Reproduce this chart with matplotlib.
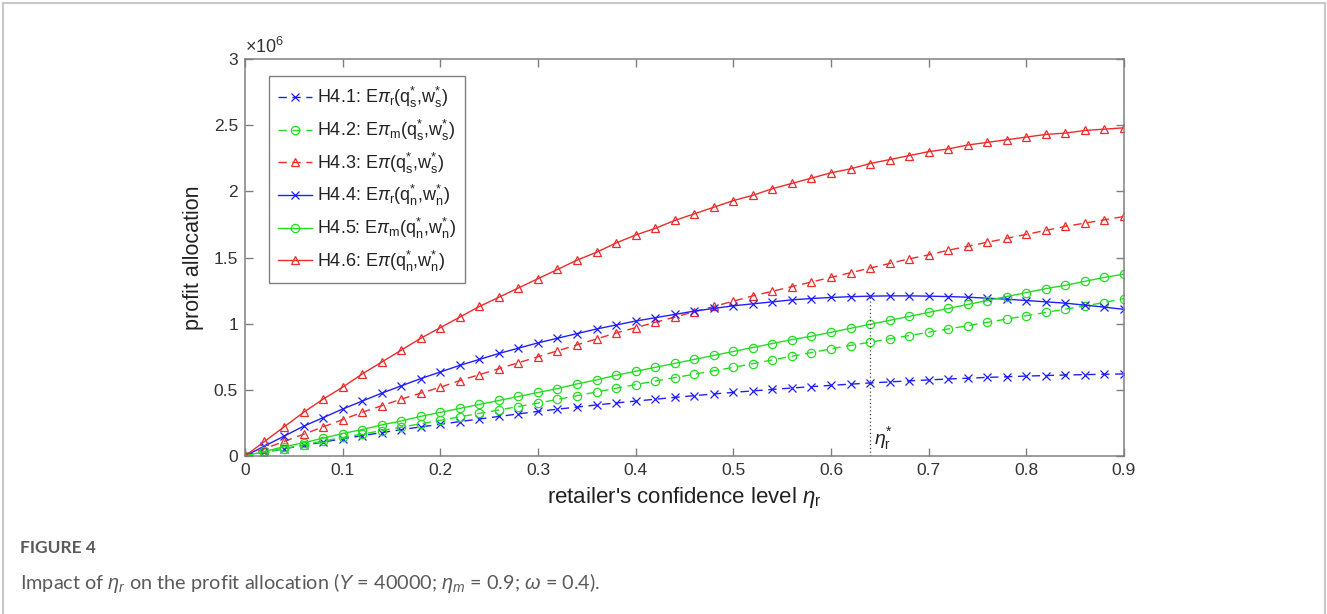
import numpy as np
import matplotlib
matplotlib.use("Agg")
import matplotlib.pyplot as plt
from matplotlib.lines import Line2D

plt.rcParams["font.family"] = ["Liberation Sans", "DejaVu Sans"]
plt.rcParams["mathtext.fontset"] = "custom"
plt.rcParams["mathtext.rm"] = "Liberation Sans"
plt.rcParams["mathtext.it"] = "Liberation Sans:italic"

# retailer's confidence level (markers every 0.02)
eta_r = np.round(np.arange(0, 0.901, 0.02), 2)

# profit values, in units of 1e6
h41 = [0, 0.028, 0.055, 0.08, 0.106, 0.13, 0.154, 0.177, 0.199, 0.22, 0.24,
       0.26, 0.28, 0.299, 0.318, 0.337, 0.354, 0.37, 0.386, 0.401, 0.415,
       0.429, 0.443, 0.456, 0.469, 0.481, 0.492, 0.503, 0.514, 0.524, 0.534,
       0.543, 0.552, 0.56, 0.568, 0.575, 0.582, 0.588, 0.594, 0.599, 0.604,
       0.608, 0.612, 0.615, 0.618, 0.62]
h42 = [0, 0.028, 0.056, 0.084, 0.112, 0.14, 0.166, 0.192, 0.218, 0.244, 0.27,
       0.296, 0.322, 0.348, 0.374, 0.40, 0.428, 0.456, 0.484, 0.512, 0.54,
       0.566, 0.592, 0.618, 0.644, 0.67, 0.698, 0.726, 0.754, 0.782, 0.81,
       0.835, 0.86, 0.885, 0.91, 0.935, 0.96, 0.985, 1.01, 1.035, 1.06,
       1.085, 1.11, 1.135, 1.16, 1.19]
h43 = [0, 0.055, 0.11, 0.165, 0.22, 0.275, 0.33, 0.38, 0.43, 0.475, 0.52,
       0.57, 0.615, 0.66, 0.705, 0.75, 0.795, 0.84, 0.885, 0.93, 0.97,
       1.01, 1.05, 1.09, 1.13, 1.17, 1.21, 1.245, 1.28, 1.315, 1.35,
       1.385, 1.42, 1.455, 1.49, 1.52, 1.555, 1.585, 1.615, 1.645, 1.675,
       1.705, 1.735, 1.76, 1.785, 1.81]
h44 = [0, 0.075, 0.15, 0.225, 0.29, 0.355, 0.415, 0.475, 0.53, 0.585, 0.635,
       0.685, 0.73, 0.775, 0.815, 0.855, 0.89, 0.925, 0.96, 0.99, 1.02,
       1.045, 1.07, 1.095, 1.115, 1.135, 1.15, 1.165, 1.18, 1.19, 1.198,
       1.204, 1.208, 1.21, 1.21, 1.208, 1.205, 1.20, 1.193, 1.185, 1.175,
       1.165, 1.155, 1.14, 1.125, 1.108]
h45 = [0, 0.035, 0.07, 0.10, 0.135, 0.17, 0.20, 0.235, 0.265, 0.30, 0.33,
       0.36, 0.39, 0.42, 0.45, 0.48, 0.51, 0.545, 0.575, 0.61, 0.64,
       0.67, 0.70, 0.73, 0.76, 0.79, 0.82, 0.85, 0.88, 0.905, 0.935,
       0.965, 0.995, 1.025, 1.055, 1.085, 1.115, 1.145, 1.175, 1.205, 1.235,
       1.265, 1.29, 1.32, 1.35, 1.375]
h46 = [0, 0.11, 0.22, 0.33, 0.43, 0.52, 0.62, 0.71, 0.80, 0.89, 0.97,
       1.05, 1.13, 1.20, 1.27, 1.34, 1.41, 1.48, 1.54, 1.61, 1.67,
       1.72, 1.78, 1.83, 1.88, 1.93, 1.97, 2.02, 2.06, 2.10, 2.14,
       2.17, 2.21, 2.24, 2.27, 2.30, 2.32, 2.35, 2.37, 2.39, 2.41,
       2.43, 2.44, 2.46, 2.47, 2.48]

eta_star = 0.64

labels = [
    r"H4.1: E$\pi_{\mathrm{r}}$(q$_{\mathrm{s}}^{*}$,w$_{\mathrm{s}}^{*}$)",
    r"H4.2: E$\pi_{\mathrm{m}}$(q$_{\mathrm{s}}^{*}$,w$_{\mathrm{s}}^{*}$)",
    r"H4.3: E$\pi$(q$_{\mathrm{s}}^{*}$,w$_{\mathrm{s}}^{*}$)",
    r"H4.4: E$\pi_{\mathrm{r}}$(q$_{\mathrm{n}}^{*}$,w$_{\mathrm{n}}^{*}$)",
    r"H4.5: E$\pi_{\mathrm{m}}$(q$_{\mathrm{n}}^{*}$,w$_{\mathrm{n}}^{*}$)",
    r"H4.6: E$\pi$(q$_{\mathrm{n}}^{*}$,w$_{\mathrm{n}}^{*}$)",
]

blue, green, red = "#1f1fff", "#22dd22", "#ee2b2b"
styles = [
    (h41, blue, "x", (0, (6, 4))),
    (h42, green, "o", (0, (6, 4))),
    (h43, red, "^", (0, (6, 4))),
    (h44, blue, "x", "-"),
    (h45, green, "o", "-"),
    (h46, red, "^", "-"),
]

fig = plt.figure(figsize=(13.27, 6.14), dpi=100)
ax = fig.add_axes([0.1846, 0.2573, 0.6624, 0.6466])

for (vals, col, mk, ls), lab in zip(styles, labels):
    ax.plot(eta_r, vals, color=col, linestyle=ls, linewidth=1.0,
            marker=mk, markersize=6, markerfacecolor="none",
            markeredgewidth=0.9, label=lab)

# marker line at eta_r*
ax.plot([eta_star, eta_star], [0, h44[list(eta_r).index(eta_star)]],
        color="#444444", linestyle=(0, (1, 2)), linewidth=0.9)
ax.text(eta_star + 0.004, 0.03, r"$\eta_{\mathrm{r}}^{*}$", fontsize=14,
        color="#222222", ha="left", va="bottom")

ax.set_xlim(0, 0.9)
ax.set_ylim(0, 3)
ax.set_xticks(np.arange(0, 0.91, 0.1))
ax.set_xticklabels(["0", "0.1", "0.2", "0.3", "0.4", "0.5", "0.6", "0.7", "0.8", "0.9"])
ax.set_yticks([0, 0.5, 1, 1.5, 2, 2.5, 3])
ax.set_yticklabels(["0", "0.5", "1", "1.5", "2", "2.5", "3"])
ax.tick_params(direction="in", length=6, width=1, color="#808080",
               labelsize=12.5, labelcolor="#333333", top=True, right=True, pad=5)
for sp in ax.spines.values():
    sp.set_color("#808080")
    sp.set_linewidth(1.1)

ax.text(0.0, 1.006, r"$\times 10^{6}$", transform=ax.transAxes, fontsize=13,
        color="#333333", ha="left", va="bottom")

ax.set_xlabel(r"retailer's confidence level $\eta_{\mathrm{r}}$", fontsize=16,
              color="#222222", labelpad=5)
ax.set_ylabel("profit allocation", fontsize=15.5, color="#222222", labelpad=7)

leg = ax.legend(loc="upper left", bbox_to_anchor=(0.027, 0.957), borderaxespad=0,
                fontsize=13, frameon=True, fancybox=False, framealpha=1,
                edgecolor="#808080", handlelength=1.9, handletextpad=0.3,
                labelspacing=0.42, borderpad=0.5)
leg.get_frame().set_linewidth(1.0)
for t in leg.get_texts():
    t.set_color("#222222")

# caption
fig.text(20 / 1327, 1 - 548 / 614, "FIGURE 4", fontsize=12.5, fontweight="bold",
         color="#5a5a5a", family=["Lato", "DejaVu Sans"], ha="left", va="center")
fig.text(20 / 1327, 1 - 583 / 614,
         r"Impact of $\eta_r$ on the profit allocation ($Y$ = 40000; $\eta_m$ = 0.9; $\omega$ = 0.4).",
         fontsize=14.3, color="#5a5a5a", family=["Lato", "DejaVu Sans"],
         ha="left", va="center")

# light page frame (left, top, right)
frame_kw = dict(color="#c8c8c8", linewidth=1.5, transform=fig.transFigure)
fig.add_artist(Line2D([3 / 1327, 3 / 1327], [0, 1 - 3 / 614], **frame_kw))
fig.add_artist(Line2D([3 / 1327, 1 - 2 / 1327], [1 - 3 / 614, 1 - 3 / 614], **frame_kw))
fig.add_artist(Line2D([1 - 2 / 1327, 1 - 2 / 1327], [0, 1 - 3 / 614], **frame_kw))

fig.savefig("out.png", dpi=100)
